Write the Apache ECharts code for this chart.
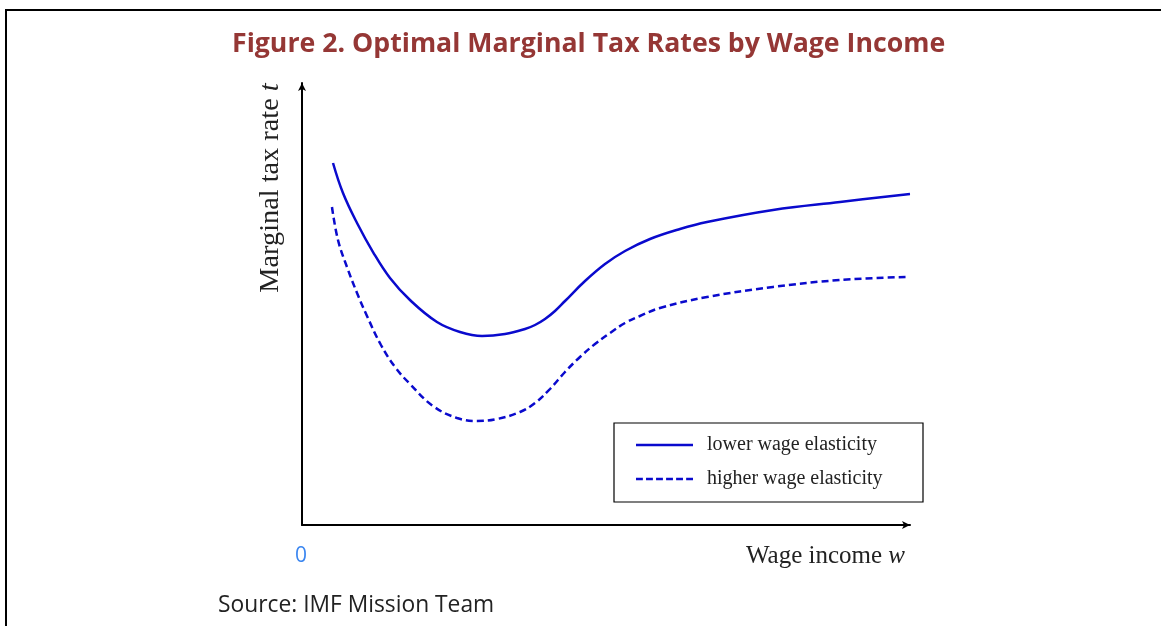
<!DOCTYPE html>
<html>
<head>
    <meta charset="utf-8">
    <title>Figure 2</title>
    <script src="https://cdn.jsdelivr.net/npm/echarts@6/dist/echarts.min.js"></script>
    <style>
        html, body { margin: 0; padding: 0; background: #ffffff; }
        #chart { width: 1161px; height: 626px; }
    </style>
</head>
<body>
<div id="chart"></div>
<script>
    // data (x: wage income 0-10, y: tax rate 0-10, arbitrary units)
    var lowerX = [0.510, 0.674, 0.905, 1.168, 1.447, 1.776, 2.220, 2.599, 2.961, 3.339, 3.668, 3.832, 3.997, 4.161, 4.326, 4.655, 4.984, 5.313, 5.724, 6.217, 6.661, 7.747, 8.849, 10.0];
    var lowerY = [8.190, 7.511, 6.833, 6.176, 5.588, 5.090, 4.593, 4.367, 4.276, 4.321, 4.434, 4.525, 4.661, 4.842, 5.068, 5.520, 5.905, 6.199, 6.471, 6.697, 6.855, 7.127, 7.308, 7.489];
    var higherX = [0.493, 0.592, 0.740, 0.905, 1.069, 1.299, 1.530, 1.776, 2.155, 2.549, 2.878, 3.207, 3.586, 3.832, 4.079, 4.326, 4.572, 4.819, 5.066, 5.313, 5.559, 5.888, 6.661, 7.747, 8.849, 9.951];
    var higherY = [7.195, 6.448, 5.837, 5.249, 4.729, 4.072, 3.575, 3.190, 2.692, 2.421, 2.353, 2.398, 2.557, 2.760, 3.077, 3.462, 3.801, 4.095, 4.344, 4.570, 4.729, 4.910, 5.158, 5.385, 5.543, 5.611];
    var seriesNames = ['lower wage elasticity', 'higher wage elasticity'];

    function pairs(xs, ys) {
        var out = [];
        for (var i = 0; i < xs.length; i++) {
            out.push([xs[i], ys[i]]);
        }
        return out;
    }

    var chart = echarts.init(document.getElementById('chart'));
    var blue = '#0a0acd';
    var serif = '"Liberation Serif", "DejaVu Serif", serif';
    // legend keys: a plain bar and a row of dashes
    var solidIcon = 'path://M0,0H57V2.5H0Z';
    var dashedIcon = 'path://M0,0h6.5v2.5h-6.5zM9.5,0h6.5v2.5h-6.5zM19,0h6.5v2.5h-6.5zM28.5,0h6.5v2.5h-6.5zM38,0h6.5v2.5h-6.5zM47.5,0h6.5v2.5h-6.5z';

    var option = {
        backgroundColor: '#ffffff',
        animation: false,
        title: {
            text: 'Figure 2. Optimal Marginal Tax Rates by Wage Income',
            left: 227,
            top: 26,
            textStyle: {
                color: '#953735',
                fontWeight: 'bold',
                fontSize: 26.7,
                fontFamily: '"Open Sans", "Noto Sans", sans-serif'
            }
        },
        grid: {
            left: 302,
            right: 251,
            top: 83,
            bottom: 101
        },
        legend: {
            orient: 'vertical',
            left: 636,
            top: 435,
            padding: 0,
            itemWidth: 57,
            itemHeight: 3,
            itemGap: 14,
            textStyle: {
                fontFamily: serif,
                fontSize: 20,
                color: '#222222',
                padding: [0, 0, 0, 9]
            },
            data: [
                { name: seriesNames[0], icon: solidIcon },
                { name: seriesNames[1], icon: dashedIcon }
            ]
        },
        xAxis: {
            type: 'value',
            min: 0,
            max: 10,
            axisLine: {
                show: true,
                symbol: ['none', 'arrow'],
                symbolSize: [6, 8],
                lineStyle: { color: '#000000', width: 2 }
            },
            axisTick: { show: false },
            axisLabel: { show: false },
            splitLine: { show: false }
        },
        yAxis: {
            type: 'value',
            min: 0,
            max: 10,
            axisLine: {
                show: true,
                symbol: ['none', 'arrow'],
                symbolSize: [6, 8],
                lineStyle: { color: '#000000', width: 2 }
            },
            axisTick: { show: false },
            axisLabel: { show: false },
            splitLine: { show: false }
        },
        series: [
            {
                name: seriesNames[0],
                type: 'line',
                smooth: 0.4,
                symbol: 'none',
                lineStyle: { color: blue, width: 2.5 },
                itemStyle: { color: blue },
                data: pairs(lowerX, lowerY)
            },
            {
                name: seriesNames[1],
                type: 'line',
                smooth: 0.4,
                symbol: 'none',
                lineStyle: { color: blue, width: 2.5, type: [7, 4] },
                itemStyle: { color: blue },
                data: pairs(higherX, higherY)
            }
        ],
        graphic: [
            // outer frame (right and bottom edges fall outside the picture)
            {
                type: 'rect',
                shape: { x: 6, y: 10, width: 1300, height: 800 },
                style: { fill: null, stroke: '#000000', lineWidth: 2 },
                silent: true
            },
            // legend box
            {
                type: 'rect',
                shape: { x: 614, y: 423, width: 309, height: 79 },
                style: { fill: null, stroke: '#000000', lineWidth: 1.2 },
                silent: true
            },
            {
                type: 'text',
                style: {
                    x: 301, y: 556,
                    text: '0',
                    fill: '#3b86f0',
                    font: '21px "Open Sans", "Noto Sans", sans-serif',
                    textAlign: 'center',
                    textVerticalAlign: 'middle'
                }
            },
            {
                type: 'text',
                style: {
                    x: 905, y: 556,
                    text: '{n|Wage income }{i|w}',
                    textAlign: 'right',
                    textVerticalAlign: 'middle',
                    rich: {
                        n: { fontFamily: serif, fontSize: 25, fill: '#222222' },
                        i: { fontFamily: serif, fontSize: 25, fontStyle: 'italic', fill: '#222222' }
                    }
                }
            },
            {
                type: 'text',
                x: 271,
                y: 188,
                rotation: Math.PI / 2,
                style: {
                    x: 0, y: 0,
                    text: '{n|Marginal tax rate }{i|t}',
                    textAlign: 'center',
                    textVerticalAlign: 'middle',
                    rich: {
                        n: { fontFamily: serif, fontSize: 28.3, fill: '#222222' },
                        i: { fontFamily: serif, fontSize: 28.3, fontStyle: 'italic', fill: '#222222' }
                    }
                }
            },
            {
                type: 'text',
                style: {
                    x: 218, y: 606,
                    text: 'Source: IMF Mission Team',
                    fill: '#222222',
                    font: '22.8px "Open Sans", "Noto Sans", sans-serif',
                    textAlign: 'left',
                    textVerticalAlign: 'middle'
                }
            }
        ]
    };

    chart.setOption(option);
    window.onresize = function () {
        chart.resize();
    };
</script>
</body>
</html>
